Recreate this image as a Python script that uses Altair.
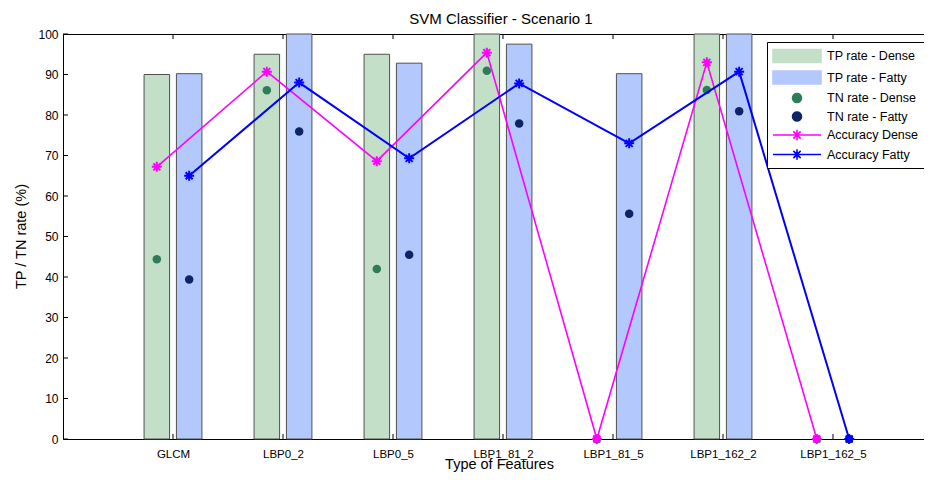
import json
import math
import altair as alt
import pandas as pd

# ---------------- data ----------------
features = ["GLCM", "LBP0_2", "LBP0_5", "LBP1_81_2", "LBP1_81_5", "LBP1_162_2", "LBP1_162_5"]
tp_dense = [90.0, 95.0, 95.0, 100.0, 0.0, 100.0, 0.0]
tp_fatty = [90.2, 100.0, 92.8, 97.5, 90.2, 100.0, 0.0]
tn_dense = [44.4, 86.1, 42.0, 90.9, 0.0, 86.2, 0.0]
tn_fatty = [39.4, 75.9, 45.5, 77.9, 55.6, 80.9, 0.0]
acc_dense = [67.2, 90.7, 68.6, 95.4, 0.0, 93.0, 0.0]
acc_fatty = [65.0, 88.0, 69.3, 87.8, 73.0, 90.7, 0.0]

series_names = ["TP rate - Dense", "TP rate - Fatty", "TN rate - Dense",
                "TN rate - Fatty", "Accuracy Dense", "Accuracy Fatty"]
series_values = [tp_dense, tp_fatty, tn_dense, tn_fatty, acc_dense, acc_fatty]
series_kind = ["bar", "bar", "dot", "dot", "acc", "acc"]
series_group = ["Dense", "Fatty", "Dense", "Fatty", "Dense", "Fatty"]
y_ticks = list(range(0, 101, 10))
chart_title = "SVM Classifier - Scenario 1"

# ---------------- styles ----------------
colors = ["#C3DFC7", "#B3C8FC", "#2E7D58", "#0D2566", "#FF00FF", "#0000FF"]
group_offset = {"Dense": -0.147, "Fatty": 0.147}
BAR_HALF = 0.116
FONT = "Liberation Sans"
PLOT_W = 861
X_MAX = PLOT_W / 110.0

rows = []
for name, vals, kind, grp in zip(series_names, series_values, series_kind, series_group):
    for i, (f, v) in enumerate(zip(features, vals)):
        rows.append({"feature": f, "pos": i + 1, "off": group_offset[grp],
                     "series": name, "kind": kind, "value": v})
df = pd.DataFrame(rows)

xs = alt.Scale(domain=[0, X_MAX], nice=False, zero=False)
ys = alt.Scale(domain=[0, 100], nice=False)
cs = alt.Scale(domain=series_names, range=colors)

label_expr = json.dumps(features) + "[datum.value - 1]"
x_axis = alt.Axis(values=list(range(1, len(features) + 1)), labelExpr=label_expr,
                  title="Type of Features", ticks=False, grid=False, labelPadding=9,
                  domainColor="black", labelColor="black", titleColor="black",
                  labelFont=FONT, labelFontSize=11.5, titleFont=FONT, titleFontSize=14.5,
                  titleFontWeight="normal", titleX=436, titleY=18, titleBaseline="top",
                  titleAlign="center", titleAnchor="start", labelFlush=False)
# top axis: frame line + chart title
x_axis_top = alt.Axis(orient="top", title=chart_title, labels=False, ticks=False,
                      grid=False, domain=True, domainColor="black", titleColor="black",
                      titleFont=FONT, titleFontSize=15, titleFontWeight="normal",
                      titleX=437.5, titleY=-11, titleBaseline="alphabetic",
                      titleAlign="center", titleAnchor="start")
y_axis = alt.Axis(values=y_ticks, title="TP / TN rate (%)", ticks=False, grid=False,
                  labelPadding=5, domainColor="black", labelColor="black",
                  titleColor="black", labelFont=FONT, labelFontSize=12, titleFont=FONT,
                  titleFontSize=14.5, titleFontWeight="normal", titleX=-42, titleY=202,
                  titleAngle=270, titleBaseline="middle", titleAlign="center",
                  titleAnchor="start")

# legend symbol shapes (paths in units of 8 px: symbolSize 256 -> r = 8)
rect_path = "M-3,-0.8L3,-0.8L3,0.8L-3,0.8Z"
circ_pts = [(0.56 * math.cos(2 * math.pi * k / 16), 0.56 * math.sin(2 * math.pi * k / 16)) for k in range(16)]
circ_path = "M" + "L".join(f"{x:.3f},{y:.3f}" for x, y in circ_pts) + "Z"
acc_path = ("M-3,0L3,0M-0.65,0L0.65,0M0,-0.65L0,0.65"
            "M-0.46,-0.46L0.46,0.46M-0.46,0.46L0.46,-0.46")
leg_shapes = [rect_path, rect_path, circ_path, circ_path, acc_path, acc_path]
leg_stroke = ["#404040", "#404040", colors[2], colors[3], colors[4], colors[5]]
idx = "[indexof(" + json.dumps(series_names) + ", datum.value)]"

legend = alt.Legend(
    title=None, orient="none", legendX=704, legendY=8, fillColor="white",
    strokeColor="black", padding=5, labelFont=FONT, labelFontSize=12.5,
    labelColor="black", symbolSize=256, symbolOffset=16, labelOffset=21,
    rowPadding=1.5, cornerRadius=0, symbolStrokeWidth=1.6,
    symbolType=alt.ExprRef(expr=json.dumps(leg_shapes) + idx),
    symbolStrokeColor=alt.ExprRef(expr=json.dumps(leg_stroke) + idx),
    symbolOpacity=1,
)

base = alt.Chart(df)

bars = base.transform_filter("datum.kind == 'bar' && datum.value > 0").transform_calculate(
    x1=f"datum.pos + datum.off - {BAR_HALF}", x2=f"datum.pos + datum.off + {BAR_HALF}",
    y0="0"
).mark_rect(stroke="#505050").encode(
    x=alt.X("x1:Q", scale=xs, axis=x_axis),
    x2="x2:Q",
    y=alt.Y("value:Q", scale=ys, axis=y_axis),
    y2="y0:Q",
    color=alt.Color("series:N", scale=cs, legend=legend),
)

dots = base.transform_filter("datum.kind == 'dot'").transform_calculate(
    xc="datum.pos + datum.off"
).mark_circle(size=72, opacity=1).encode(
    x=alt.X("xc:Q", scale=xs, axis=None), y=alt.Y("value:Q", scale=ys),
    color=alt.Color("series:N", scale=cs, legend=None),
)

star_path = "M-1,0L1,0M0,-1L0,1M-0.7,-0.7L0.7,0.7M-0.7,0.7L0.7,-0.7"
line_layers = []
for name, sw in [("Accuracy Dense", 1.6), ("Accuracy Fatty", 2.0)]:
    sub = base.transform_filter(f"datum.series == '{name}'").transform_calculate(
        xc="datum.pos + datum.off")
    line_layers.append(sub.mark_line(strokeWidth=sw).encode(
        x=alt.X("xc:Q", scale=xs, axis=None), y=alt.Y("value:Q", scale=ys),
        color=alt.Color("series:N", scale=cs, legend=None)))
    line_layers.append(sub.mark_point(shape=star_path, filled=False, strokeWidth=2,
                                      size=100, opacity=1).encode(
        x=alt.X("xc:Q", scale=xs, axis=None), y=alt.Y("value:Q", scale=ys),
        color=alt.Color("series:N", scale=cs, legend=None)))

# inward ticks and top frame (MATLAB style)
ytick_df = pd.DataFrame({"v": y_ticks, "a": 0.0, "b": 0.045})
xtick_df = pd.DataFrame({"p": list(range(1, len(features) + 1))})
ytick_rules = alt.Chart(ytick_df).mark_rule(color="black", strokeWidth=1).encode(
    x=alt.X("a:Q", scale=xs, axis=None), x2="b:Q", y=alt.Y("v:Q", scale=ys))
xtick_bottom = alt.Chart(xtick_df).transform_calculate(y1="0", y2="1.25").mark_rule(
    color="black", strokeWidth=1).encode(
    x=alt.X("p:Q", scale=xs, axis=None), y=alt.Y("y1:Q", scale=ys), y2="y2:Q")
xtick_top = alt.Chart(xtick_df).transform_calculate(y1="100", y2="98.75").mark_rule(
    color="black", strokeWidth=1).encode(
    x=alt.X("p:Q", scale=xs, axis=x_axis_top), y=alt.Y("y1:Q", scale=ys), y2="y2:Q")

chart = alt.layer(
    bars, dots, *line_layers, ytick_rules, xtick_bottom, xtick_top
).resolve_axis(x="independent").properties(
    width=PLOT_W, height=405,
    autosize=alt.AutoSizeParams(type="none"),
    padding={"left": 55, "top": 26, "right": 0, "bottom": 33},
).configure_view(stroke=None).configure(background="white")

chart.save("out.html", embed_options={"renderer": "svg", "actions": False})
